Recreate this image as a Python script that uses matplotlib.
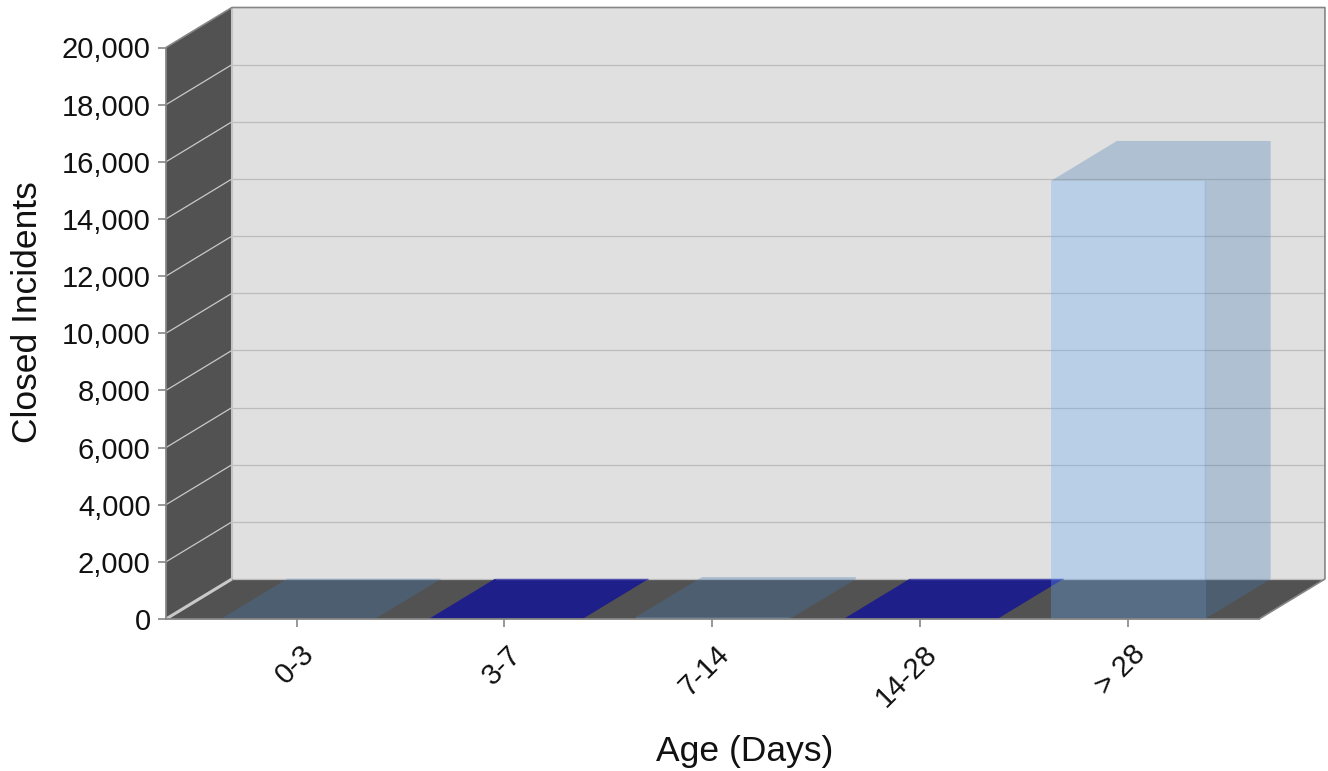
import numpy as np
import matplotlib
matplotlib.use('Agg')
import matplotlib.pyplot as plt
from matplotlib.ticker import FuncFormatter
from matplotlib.transforms import ScaledTranslation

plt.rcParams['font.family'] = ['Liberation Sans', 'DejaVu Sans']

# Data
categories = ['0-3', '3-7', '7-14', '14-28', '> 28']
closed_incidents = [10, 0, 70, 0, 15330]
bar_is_dark = [False, True, False, True, False]
y_ticks = list(range(0, 20001, 2000))

# 3D look of the old chart: how far the back wall sits from the front plane
DEPTH_X = 0.3173
DEPTH_Y = 1400
BAR_W = 0.74

WALL = '#e0e0e0'
DARK = '#525252'
EDGE = '#868686'
GRID = '#bcbcbc'
SIDE_LINE = '#c9c9c9'

fig = plt.figure(figsize=(13.28, 7.71), dpi=100)
ax = fig.add_axes([166 / 1328, (771 - 619) / 771, 1093 / 1328, 571.5 / 771])
ax.set_xlim(-0.628, 4.631)
ax.set_ylim(0, 20000)
x_left, x_right = ax.get_xlim()
y_top = ax.get_ylim()[1]


def poly(xs, ys, color, alpha=1.0, z=1):
    ax.fill(xs, ys, color=color, alpha=alpha, lw=0, zorder=z, clip_on=False)


def line(xs, ys, color, lw=1.0, z=2, alpha=1.0):
    ax.plot(xs, ys, color=color, lw=lw, zorder=z, clip_on=False, alpha=alpha,
            solid_capstyle='butt')


# back wall, left wall and floor
wall_l = x_left + DEPTH_X
wall_r = x_right + DEPTH_X
poly([wall_l, wall_r, wall_r, wall_l],
     [DEPTH_Y, DEPTH_Y, y_top + DEPTH_Y, y_top + DEPTH_Y], WALL)
poly([x_left, wall_l, wall_l, x_left],
     [0, DEPTH_Y, y_top + DEPTH_Y, y_top], DARK)
poly([x_left, x_right, wall_r, wall_l], [0, 0, DEPTH_Y, DEPTH_Y], DARK)

# grid lines on the back wall and the left wall
for v in y_ticks:
    if v == y_top:
        continue
    line([wall_l, wall_r], [v + DEPTH_Y, v + DEPTH_Y], GRID, 0.9)
    line([x_left, wall_l], [v, v + DEPTH_Y], SIDE_LINE, 2.2 if v == 0 else 0.9)

# frame
line([wall_l, wall_l], [DEPTH_Y, y_top + DEPTH_Y], '#c4c4c4', 1.5)
line([x_left, wall_l, wall_r, wall_r], [y_top, y_top + DEPTH_Y, y_top + DEPTH_Y, DEPTH_Y],
     EDGE, 1.2, 3)
line([x_right, wall_r], [0, DEPTH_Y], EDGE, 1.2, 3)

# bars: the front face is a plain bar, top and side are sheared copies
bar_x = np.linspace(0.008, 4.0, len(categories))
for x, v, dark in zip(bar_x, closed_incidents, bar_is_dark):
    l, r = x - BAR_W / 2, x + BAR_W / 2
    if dark:
        poly([l, r, r + DEPTH_X, l + DEPTH_X], [v, v, v + DEPTH_Y, v + DEPTH_Y],
             '#1f1f8a', 1.0, 4)
        line([l + DEPTH_X, r + DEPTH_X], [v + DEPTH_Y, v + DEPTH_Y], '#5050b0', 1.0, 5)
    else:
        poly([r, r + DEPTH_X, r + DEPTH_X, r], [0, DEPTH_Y, v + DEPTH_Y, v],
             '#447bb4', 0.31, 5)
        poly([l, r, r + DEPTH_X, l + DEPTH_X], [v, v, v + DEPTH_Y, v + DEPTH_Y],
             '#447bb4', 0.31, 5)
        ax.bar(x, v, BAR_W, color='#64abfc', alpha=0.31, lw=0, zorder=6, clip_on=False)
        if v > 1000:
            line([r, r], [0, v], '#64abfc', 0.8, 7, 0.2)

# axes
for name in ['top', 'right']:
    ax.spines[name].set_visible(False)
for name in ['left', 'bottom']:
    ax.spines[name].set_color(EDGE)
    ax.spines[name].set_linewidth(1.3)
    ax.spines[name].set_zorder(8)

ax.set_yticks(y_ticks)
ax.yaxis.set_major_formatter(FuncFormatter(lambda v, p: f'{int(v):,}'))
ax.set_xticks(range(len(categories)))
ax.set_xticklabels(categories)
ax.tick_params(axis='both', color=EDGE, width=1.2, length=6, labelsize=21, labelcolor='#111111')
ax.tick_params(axis='y', pad=5)

shift = ScaledTranslation(3 / 100, -8 / 100, fig.dpi_scale_trans)
for lab in ax.get_xticklabels():
    lab.set_rotation(45)
    lab.set_rotation_mode('anchor')
    lab.set_ha('right')
    lab.set_va('top')
    lab.set_transform(lab.get_transform() + shift)

fig.text(28 / 1328, 1 - 312 / 771, 'Closed Incidents', rotation=90, fontsize=25.5,
         ha='center', va='center', color='#111111')
fig.text(745 / 1328, 1 - 751 / 771, 'Age (Days)', fontsize=25.5,
         ha='center', va='center', color='#111111')

fig.savefig('out.png', dpi=100)
